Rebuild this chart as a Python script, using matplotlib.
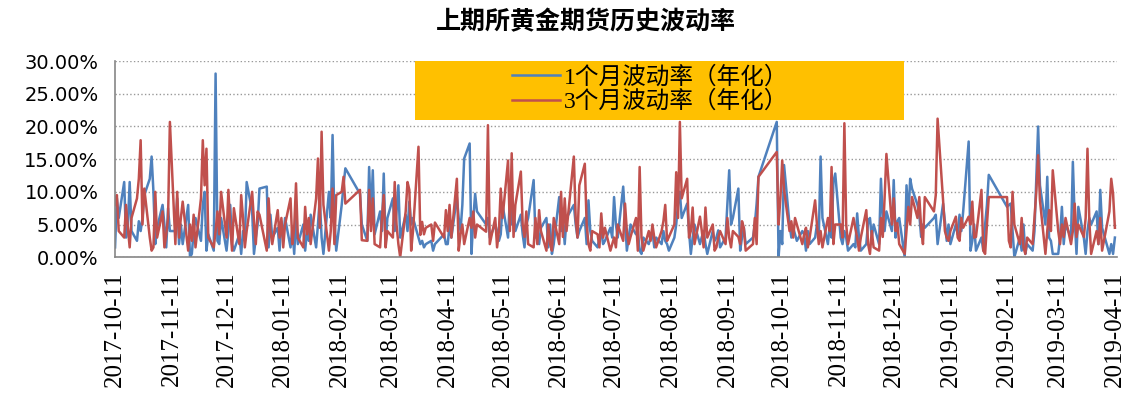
import matplotlib
matplotlib.use('Agg')
import matplotlib.pyplot as plt
from matplotlib.patches import Rectangle
from matplotlib.ticker import FuncFormatter
import pandas as pd

title = '上期所黄金期货历史波动率'
series_names = ['1个月波动率（年化）', '3个月波动率（年化）']

# 休市的工作日
holidays = ['2018-01-01', '2018-02-15', '2018-02-16', '2018-02-19', '2018-02-20',
            '2018-02-21', '2018-04-05', '2018-04-06', '2018-04-30', '2018-05-01',
            '2018-06-18', '2018-09-24', '2018-10-01', '2018-10-02', '2018-10-03',
            '2018-10-04', '2018-10-05', '2018-12-31', '2019-01-01', '2019-02-04',
            '2019-02-05', '2019-02-06', '2019-02-07', '2019-02-08', '2019-04-05']

# 1个月波动率(%)，每行 = 当月11日到次月10日
vol_1m = [
    1.5, 9.0, 6.0, 11.5, 3.0, 5.0, 11.5, 4.0, 2.5, 5.5, 4.0, 6.0, 9.5, 12.0, 15.4, 10.0, 2.0, 4.5, 8.0, 5.0, 1.5, 7.5, 4.0,
    4.0, 9.0, 2.0, 5.0, 2.0, 8.0, 0.0, 0.5, 4.0, 6.0, 2.5, 8.0, 10.0, 1.0, 3.5, 1.0, 28.1, 2.5, 2.0, 6.0,
    1.0, 4.0, 8.0, 2.0, 1.0, 3.5, 0.5, 4.0, 2.5, 11.5, 7.0, 0.5, 3.0, 5.0, 10.5, 10.8, 1.5, 6.5, 3.0, 4.5, 1.0, 5.5,
    3.0, 6.0, 1.5, 4.5, 0.5, 6.0, 2.0, 5.0, 1.0, 4.0, 2.5, 6.5, 1.5, 5.0, 9.0, 3.0, 0.5, 10.0, 6.0, 18.7, 6.0, 1.0,
    8.0, 11.0, 13.6, 9.7, 5.0, 2.5, 13.8, 6.0, 13.3, 3.5, 7.0, 4.0, 12.8, 2.0, 6.0,
    9.0, 4.0, 7.0, 11.0, 3.0, 6.5, 4.0, 8.5, 5.0, 6.0, 3.0, 2.0, 2.5, 1.5, 2.0, 2.5, 1.0, 2.0, 3.5, 2.0,
    2.0, 5.0, 3.0, 9.2, 6.0, 4.0, 8.0, 15.1, 17.4, 0.5, 6.0, 9.7, 7.0, 5.0, 6.0, 3.0, 5.0, 4.0, 2.5, 3.5,
    8.0, 3.0, 9.0, 5.0, 7.7, 4.0, 6.5, 3.5, 1.5, 5.0, 6.0, 11.8, 3.0, 4.0, 2.0, 4.5, 6.0, 1.5, 5.0, 0.5, 2.0,
    9.2, 4.0, 6.0, 2.0, 6.0, 8.0, 5.0, 3.0, 4.0, 6.0, 2.0, 8.7, 4.0, 2.5, 1.5, 3.0, 4.0, 2.0, 2.5, 4.5, 3.0,
    9.2, 5.0, 3.0, 10.8, 6.0, 1.0, 3.0, 5.0, 3.5, 4.0, 1.0, 0.5, 3.0, 2.0, 3.1, 4.0, 1.5, 3.0, 2.0, 4.0, 2.5, 2.0, 1.0,
    3.0, 5.0, 8.2, 10.0, 6.0, 8.2, 4.0, 0.5, 3.0, 5.0, 2.0, 3.1, 4.0, 2.0, 0.5, 4.0, 2.5, 3.0, 4.1, 1.5, 3.0,
    8.0, 13.3, 5.0, 6.0, 10.5, 1.0, 3.0, 4.5, 2.0, 3.0, 5.0, 8.2, 12.3, 20.7, 0.0, 4.0,
    2.0, 14.1, 5.0, 3.0, 4.5, 3.5, 2.5, 4.0, 3.5, 1.0, 4.0, 2.0, 3.0, 5.0, 3.0, 15.4, 6.0, 2.0, 5.0, 3.0, 11.5, 12.8,
    3.0, 2.0, 4.0, 3.0, 1.0, 2.0, 1.5, 6.7, 3.0, 1.0, 2.0, 5.5, 6.0, 3.0, 5.0, 2.0, 12.0, 6.0, 4.0, 7.0, 4.0,
    11.8, 3.0, 5.5, 6.0, 0.0, 11.0, 6.0, 12.0, 10.5, 8.0, 6.5, 3.1, 5.0, 4.5, 6.0, 6.5, 2.0, 8.2, 5.5, 2.5, 5.0,
    2.0, 5.0, 3.5, 6.5, 4.0, 7.0, 17.7, 1.0, 2.5, 5.0, 1.0, 3.0, 1.0, 5.0, 8.0, 12.6,
    7.7, 8.0, 8.2, 4.0, 0.0, 3.0, 1.0, 5.0, 0.5, 2.0, 1.0, 4.0, 12.0, 20.0, 11.0, 5.0, 12.3, 3.0, 2.5, 0.5,
    0.5, 3.0, 7.7, 2.0, 5.0, 3.0, 14.6, 6.0, 0.5, 7.7, 3.0, 0.5, 4.0, 6.0, 5.0, 7.0, 2.0, 10.3, 4.5, 0.5, 2.0, 0.5, 3.0,
]

# 3个月波动率(%)
vol_3m = [
    8.0, 9.5, 4.0, 3.0, 8.0, 4.5, 1.5, 6.0, 9.0, 12.0, 17.9, 5.0, 10.5, 3.0, 1.0, 1.5, 10.0, 3.0, 7.0, 1.5, 3.5, 6.0, 20.7,
    2.0, 10.0, 3.0, 6.0, 8.5, 1.0, 5.0, 2.5, 6.5, 1.5, 9.0, 17.9, 11.0, 16.6, 3.0, 1.5, 4.0, 7.0, 3.5, 10.0,
    3.0, 10.3, 5.0, 1.0, 7.5, 2.0, 9.5, 6.0, 1.5, 4.0, 10.0, 5.5, 2.0, 7.0, 6.5, 1.0, 9.0, 4.0, 2.0, 7.2, 3.0, 6.0,
    1.5, 5.0, 9.0, 2.0, 4.5, 11.3, 3.0, 1.5, 7.7, 3.5, 6.0, 2.0, 9.0, 15.1, 4.5, 19.2, 8.0, 1.0, 4.0, 10.5, 2.0, 9.5,
    10.0, 12.3, 8.2, 10.3, 2.6, 2.5, 10.3, 4.0, 9.0, 2.0, 1.5, 6.0, 9.5, 1.5, 4.0,
    3.0, 11.5, 5.0, 2.0, 0.0, 7.0, 11.5, 10.3, 1.0, 4.0, 16.9, 3.4, 5.4, 3.5, 4.5, 5.0, 2.5, 5.3, 3.0, 7.2,
    4.0, 8.0, 3.0, 12.0, 1.0, 3.5, 5.0, 2.0, 6.0, 4.5, 7.0, 3.0, 5.0, 3.9, 20.2, 2.0, 6.0, 1.5, 4.0, 10.5,
    6.0, 14.8, 4.0, 15.9, 3.1, 8.0, 13.1, 5.0, 3.1, 7.0, 2.0, 1.5, 6.0, 2.0, 7.2, 4.0, 1.0, 5.0, 2.0, 1.0, 6.0,
    2.0, 10.0, 3.1, 9.0, 4.0, 15.4, 6.0, 3.0, 11.0, 14.3, 5.0, 2.0, 1.0, 4.0, 3.5, 1.5, 6.7, 3.0, 4.5, 1.0, 2.0,
    3.0, 1.5, 5.0, 2.5, 8.2, 4.0, 2.0, 3.1, 6.0, 1.0, 13.8, 3.0, 1.0, 4.0, 2.5, 5.0, 3.0, 1.5, 4.0, 5.5, 8.0, 2.5, 3.1,
    5.0, 13.0, 6.0, 20.7, 9.0, 12.0, 3.0, 4.0, 7.6, 2.0, 6.2, 4.0, 1.5, 7.6, 3.0, 5.0, 1.0, 1.5, 3.0, 4.0, 2.0,
    6.0, 3.0, 1.5, 4.0, 3.1, 2.0, 5.5, 4.5, 1.0, 2.0, 6.0, 2.0, 12.3, 16.1, 5.0, 9.0,
    14.8, 10.3, 4.0, 5.5, 3.0, 6.0, 5.0, 2.0, 3.5, 4.5, 1.5, 3.0, 8.7, 5.0, 2.0, 4.0, 1.5, 6.0, 4.0, 13.8, 2.0, 5.0,
    5.0, 3.0, 20.5, 5.0, 2.0, 6.0, 4.4, 3.0, 1.0, 3.0, 7.2, 2.0, 0.5, 4.0, 1.5, 1.0, 6.0, 3.1, 9.0, 15.8, 5.0,
    9.0, 4.0, 5.2, 2.0, 0.5, 4.0, 7.7, 5.0, 9.2, 6.0, 9.2, 4.5, 2.0, 9.2, 7.0, 9.5, 21.2, 8.7, 4.0, 3.0, 2.5,
    4.0, 6.2, 3.0, 2.5, 6.0, 4.5, 6.2, 5.0, 8.5, 3.0, 3.1, 10.3, 1.0, 0.5, 5.0, 9.2,
    9.2, 2.5, 1.5, 10.0, 5.0, 2.0, 6.0, 1.5, 0.5, 3.0, 2.0, 6.0, 10.0, 15.6, 8.7, 0.5, 4.0, 7.2, 4.0, 13.3,
    4.0, 2.0, 5.0, 3.1, 6.0, 2.0, 4.0, 8.2, 3.1, 5.0, 3.1, 6.0, 16.6, 5.6, 0.5, 4.0, 2.0, 6.0, 1.0, 7.0, 12.0, 9.7, 4.5,
]

tick_labels = ['2017-10-11', '2017-11-11', '2017-12-11', '2018-01-11', '2018-02-11',
               '2018-03-11', '2018-04-11', '2018-05-11', '2018-06-11', '2018-07-11',
               '2018-08-11', '2018-09-11', '2018-10-11', '2018-11-11', '2018-12-11',
               '2019-01-11', '2019-02-11', '2019-03-11', '2019-04-11']

days = pd.bdate_range('2017-10-11', '2019-04-11')
days = days[~days.isin(pd.to_datetime(holidays))]
n = min(len(days), len(vol_1m), len(vol_3m))

fig = plt.figure(figsize=(11.28, 4.05), dpi=100)
ax = fig.add_axes([0.102, 0.365, 0.888, 0.484])

ax.plot(days[:n], vol_1m[:n], color='#4F81BD', lw=1.8, label=series_names[0])
ax.plot(days[:n], vol_3m[:n], color='#C0504D', lw=1.8, label=series_names[1])

ax.set_ylim(0, 30)
ax.set_yticks(range(0, 31, 5))
ax.yaxis.set_major_formatter(FuncFormatter(lambda v, p: f'{v:.2f}%'))
ax.grid(axis='y', linestyle=':', color='#999999', lw=1)
ax.set_axisbelow(True)

ticks = pd.to_datetime(tick_labels)
ax.set_xticks(ticks)
ax.set_xticklabels(tick_labels, rotation=90, fontsize=18, family='Liberation Serif')
ax.set_xlim(ticks[0], pd.Timestamp('2019-04-12'))
ax.tick_params(axis='both', length=0)
ax.tick_params(axis='x', pad=10)
ax.tick_params(axis='y', labelsize=14, pad=12)

for s in ['top', 'right']:
    ax.spines[s].set_visible(False)
for s in ['left', 'bottom']:
    ax.spines[s].set_color('#868686')
    ax.spines[s].set_linewidth(1.2)

# 图例底色
ax.add_patch(Rectangle((0.299, 0.699), 0.489, 0.301, transform=ax.transAxes,
                       facecolor='#FFC000', edgecolor='none', zorder=3))
leg = ax.legend(loc='upper left', bbox_to_anchor=(0.392, 1.0), frameon=False,
                borderaxespad=0, borderpad=0.2, handlelength=2.0, handletextpad=0.2,
                labelspacing=0.1,
                prop={'family': ['Liberation Serif', 'Noto Sans CJK SC'], 'size': 17})
leg.set_zorder(4)

fig.text(0.519, 0.945, title, ha='center', va='center', fontsize=18,
         fontweight='bold', family=['Noto Sans CJK SC', 'DejaVu Sans'])

fig.savefig('out.png', dpi=100, facecolor='white')
